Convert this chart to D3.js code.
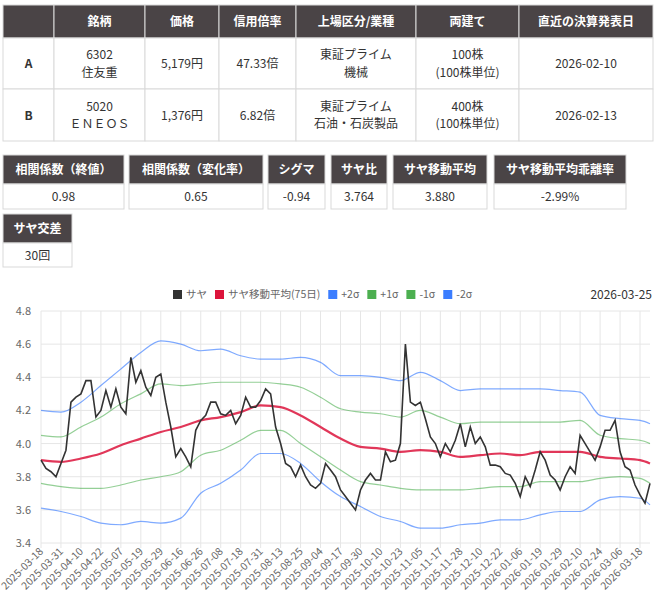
<!DOCTYPE html>
<html><head><meta charset="utf-8">
<script src="https://cdn.jsdelivr.net/npm/d3@7"></script>
<style>
body{margin:0;background:#fff;font-family:"Noto Sans CJK JP","Noto Sans",sans-serif;}
svg text{font-family:"Noto Sans CJK JP","Noto Sans",sans-serif;}
</style></head><body>
<svg id="c" width="656" height="604"></svg>
<script>
// table
const headers = ['', '銘柄', '価格', '信用倍率', '上場区分/業種', '両建て', '直近の決算発表日'];
const rowA = ['A', ['6302', '住友重'], '5,179円', '47.33倍', ['東証プライム', '機械'], ['100株', '(100株単位)'], '2026-02-10'];
const rowB = ['B', ['5020', 'ＥＮＥＯＳ'], '1,376円', '6.82倍', ['東証プライム', '石油・石炭製品'], ['400株', '(100株単位)'], '2026-02-13'];
const statNames = ['相関係数（終値）', '相関係数（変化率）', 'シグマ', 'サヤ比', 'サヤ移動平均', 'サヤ移動平均乖離率'];
const statValues = ['0.98', '0.65', '-0.94', '3.764', '3.880', '-2.99%'];
const stat2Names = ['サヤ交差'];
const stat2Values = ['30回'];

// chart
const tickLabels = ['2025-03-18','2025-03-31','2025-04-10','2025-04-22','2025-05-07','2025-05-19','2025-05-29','2025-06-16','2025-06-26','2025-07-08','2025-07-18','2025-07-31','2025-08-13','2025-08-25','2025-09-04','2025-09-17','2025-09-30','2025-10-10','2025-10-23','2025-11-05','2025-11-17','2025-11-28','2025-12-10','2025-12-22','2026-01-06','2026-01-19','2026-01-29','2026-02-10','2026-02-24','2026-03-06','2026-03-18'];
const saya = [3.90,3.85,3.83,3.80, 3.88,3.96,4.25,4.28, 4.30,4.38,4.38,4.16, 4.20,4.32,4.22,4.33,
  4.22,4.18,4.52,4.37, 4.44,4.34,4.29,4.40, 4.42,4.25,4.10,3.92, 3.97,3.92,3.86,4.08,
  4.14,4.17,4.25,4.25, 4.18,4.17,4.20,4.12, 4.17,4.28,4.22,4.22, 4.26,4.33,4.30,4.10,
  4.00,3.88,3.86,3.80, 3.87,3.80,3.75,3.73, 3.76,3.88,3.84,3.80, 3.72,3.68,3.64,3.60,
  3.72,3.78,3.82,3.78, 3.78,3.95,3.89,3.90, 4.00,4.60,4.25,4.23, 4.25,4.15,4.04,4.00,
  3.92,4.00,3.95,4.02, 4.12,3.98,4.10,4.00, 4.04,3.98,3.87,3.87, 3.86,3.82,3.81,3.76,
  3.68,3.80,3.74,3.84, 3.95,3.90,3.81,3.78, 3.72,3.80,3.86,3.82, 4.05,4.00,3.95,3.90,
  3.98,4.08,4.08,4.14, 3.95,3.86,3.84,3.75, 3.69,3.64,3.76];
// band values at each tick + last point
const ma = [3.90,3.89,3.91,3.94,3.99,4.03,4.07,4.10,4.14,4.16,4.19,4.23,4.22,4.17,4.10,4.03,3.98,3.97,3.95,3.96,3.95,3.92,3.93,3.94,3.93,3.95,3.95,3.95,3.92,3.91,3.90,3.88];
const p1 = [4.05,4.04,4.10,4.16,4.24,4.30,4.36,4.35,4.36,4.37,4.37,4.37,4.36,4.34,4.28,4.21,4.19,4.18,4.16,4.20,4.16,4.12,4.13,4.13,4.13,4.13,4.13,4.14,4.05,4.03,4.02,4.00];
const p2 = [4.20,4.19,4.25,4.35,4.45,4.55,4.62,4.60,4.56,4.57,4.53,4.51,4.51,4.52,4.49,4.41,4.41,4.40,4.38,4.43,4.38,4.32,4.33,4.33,4.33,4.33,4.32,4.31,4.17,4.15,4.14,4.12];
const m1 = [3.76,3.74,3.73,3.73,3.75,3.78,3.80,3.83,3.93,3.96,4.02,4.08,4.08,4.00,3.92,3.84,3.77,3.75,3.73,3.72,3.72,3.72,3.73,3.74,3.74,3.77,3.77,3.77,3.79,3.80,3.79,3.76];
const m2 = [3.61,3.59,3.56,3.52,3.51,3.53,3.52,3.55,3.70,3.76,3.84,3.94,3.94,3.88,3.77,3.68,3.62,3.56,3.53,3.49,3.49,3.51,3.52,3.54,3.54,3.57,3.59,3.59,3.66,3.68,3.67,3.63];
const yTicks = [3.4,3.6,3.8,4.0,4.2,4.4,4.6,4.8];
const legend = [['サヤ','#333'],['サヤ移動平均(75日)','#dc143c'],['+2σ','#3b7dff'],['+1σ','#4caf50'],['-1σ','#4caf50'],['-2σ','#3b7dff']];

const svg = d3.select('#c');
const dark = '#4a4446', line = '#d9d9d9';

// main table
const colX = [3,54,145,219,296,416,519,653];
const rowY = [5,38,89,141];
function cell(x0,x1,y0,y1,txt,head,bold){
  svg.append('rect').attr('x',x0).attr('y',y0).attr('width',x1-x0).attr('height',y1-y0)
    .attr('fill',head?dark:'#fff').attr('stroke',line);
  const lines = Array.isArray(txt)?txt:[txt];
  const cy=(y0+y1)/2;
  lines.forEach((t,i)=>{
    svg.append('text').attr('x',(x0+x1)/2).attr('y',cy+(i-(lines.length-1)/2)*17.5+4.5)
      .attr('text-anchor','middle').attr('font-size',12)
      .attr('font-weight',(head||bold)?'bold':'normal')
      .attr('fill',head?'#fff':'#333').text(t);
  });
}
headers.forEach((h,i)=>cell(colX[i],colX[i+1],rowY[0],rowY[1],h,true));
rowA.forEach((v,i)=>cell(colX[i],colX[i+1],rowY[1],rowY[2],v,false,i==0));
rowB.forEach((v,i)=>cell(colX[i],colX[i+1],rowY[2],rowY[3],v,false,i==0));

const statX = [[3,124],[129,263],[268,325],[331,387],[393,487],[494,626]];
statNames.forEach((n,i)=>{
  cell(statX[i][0],statX[i][1],155,184,n,true);
  cell(statX[i][0],statX[i][1],184,209,statValues[i],false);
});
stat2Names.forEach((n,i)=>{
  cell(3,72,214,243,n,true);
  cell(3,72,243,267,stat2Values[i],false);
});

// chart
const x = d3.scaleLinear().domain([0,122]).range([41,650]);
const y = d3.scaleLinear().domain([3.4,4.8]).range([543,311]);
const g = svg.append('g');
g.selectAll('.gy').data(yTicks).join('line').attr('x1',41).attr('x2',650)
  .attr('y1',d=>y(d)).attr('y2',d=>y(d)).attr('stroke','#e6e6e6');
g.selectAll('.gx').data(tickLabels).join('line').attr('x1',(d,i)=>x(i*4)).attr('x2',(d,i)=>x(i*4))
  .attr('y1',311).attr('y2',548).attr('stroke','#e6e6e6');
g.selectAll('.ly').data(yTicks).join('text').attr('x',31).attr('y',d=>y(d)+4)
  .attr('text-anchor','end').attr('font-size',11).attr('fill','#666').text(d=>d.toFixed(1));
g.selectAll('.lx').data(tickLabels).join('text')
  .attr('transform',(d,i)=>`translate(${x(i*4)+3},${552}) rotate(-45)`)
  .attr('text-anchor','end').attr('font-size',10.5).attr('fill','#666').text(d=>d);

const bandIdx = ma.map((d,i)=>i<31?i*4:122);
function band(vals,color,w,op){
  g.append('path').datum(vals).attr('fill','none').attr('stroke',color).attr('stroke-width',w).attr('opacity',op)
    .attr('d',d3.line().x((d,i)=>x(bandIdx[i])).y(d=>y(d)).curve(d3.curveMonotoneX));
}
band(p2,'#3b7dff',1.2,0.65); band(m2,'#3b7dff',1.2,0.65);
band(p1,'#4caf50',1.2,0.6); band(m1,'#4caf50',1.2,0.6);
band(ma,'#dc143c',2.2,0.85);
g.append('path').datum(saya).attr('fill','none').attr('stroke','#333').attr('stroke-width',1.6)
  .attr('d',d3.line().x((d,i)=>x(i)).y(d=>y(d)));

// legend
let lx = 173;
legend.forEach(([t,c])=>{
  svg.append('rect').attr('x',lx).attr('y',290).attr('width',9).attr('height',9).attr('fill',c);
  const tx = svg.append('text').attr('x',lx+13).attr('y',298).attr('font-size',10.5).attr('fill','#666').text(t);
  lx += 13 + tx.node().getComputedTextLength() + 8;
});
svg.append('text').attr('x',652).attr('y',299).attr('text-anchor','end').attr('font-size',12).attr('fill','#333').text('2026-03-25');
</script>
</body></html>
